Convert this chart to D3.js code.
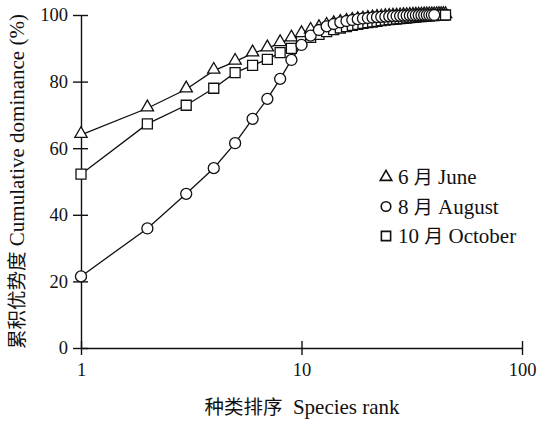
<!DOCTYPE html>
<html>
<head>
<meta charset="utf-8">
<script src="https://cdn.jsdelivr.net/npm/d3@7"></script>
<style>
  html, body { margin: 0; padding: 0; background: #fff; }
  svg { display: block; }
</style>
</head>
<body>
<div id="chart"></div>
<script>
  // cumulative dominance (%) by species rank
  const juneValues = [64, 72, 77.7, 83.3, 86, 88.5, 90, 91.6, 93, 94.3,
    95.3, 96.1, 96.8, 97.3, 97.7, 98.0, 98.3, 98.5, 98.7, 98.9,
    99.05, 99.2, 99.3, 99.4, 99.5, 99.55, 99.6, 99.65, 99.7, 99.75,
    99.8, 99.83, 99.86, 99.88, 99.9, 99.92, 99.94, 99.95, 99.96, 99.97,
    99.98, 99.99, 99.99, 100, 100];
  const augustValues = [21.5, 35.9, 46.3, 54, 61.5, 68.8, 74.8, 80.8, 86.5, 91,
    93.8, 95.5, 96.6, 97.3, 97.8, 98.2, 98.5, 98.75, 98.95, 99.1,
    99.25, 99.35, 99.45, 99.52, 99.6, 99.65, 99.7, 99.75, 99.8, 99.84,
    99.87, 99.9, 99.92, 99.94, 99.96, 99.97, 99.98, 99.99, 100, 100];
  const octoberValues = [52.2, 67.3, 72.9, 78, 82.7, 84.9, 86.7, 88.7, 90, 92,
    93.3, 94.2, 95, 95.6, 96.1, 96.5, 96.9, 97.2, 97.5, 97.7,
    97.9, 98.1, 98.3, 98.45, 98.6, 98.7, 98.8, 98.9, 99.0, 99.1,
    99.2, 99.3, 99.4, 99.5, 99.55, 99.6, 99.7, 99.75, 99.8, 99.85,
    99.9, 99.93, 99.96, 99.98, 100];

  const xTicks = [1, 10, 100];
  const yTicks = [0, 20, 40, 60, 80, 100];
  const seriesLabels = ["6 月 June", "8 月 August", "10 月 October"];
  const seriesSymbols = ["triangle", "circle", "square"];

  const SERIF = "'Liberation Serif', 'Times New Roman', serif";
  const CJK = "'Noto Sans CJK SC', sans-serif";

  const width = 537, height = 422;
  const margin = { top: 15, right: 15, bottom: 74, left: 81 };

  const svg = d3.select("#chart").append("svg")
    .attr("width", width)
    .attr("height", height);

  const x = d3.scaleLog()
    .domain([1, 100])
    .range([margin.left, width - margin.right]);
  const y = d3.scaleLinear()
    .domain([0, 100])
    .range([height - margin.bottom, margin.top]);

  const toPoints = (vals) => vals.map((v, i) => ({ rank: i + 1, value: v }));
  const series = [
    { key: "june", symbol: "triangle", points: toPoints(juneValues) },
    { key: "october", symbol: "square", points: toPoints(octoberValues) },
    { key: "august", symbol: "circle", points: toPoints(augustValues) },
  ];

  // axes
  const xAxis = d3.axisBottom(x).tickValues(xTicks).tickFormat(d3.format("d"))
    .tickSizeInner(-7).tickSizeOuter(0).tickPadding(15);
  const yAxis = d3.axisLeft(y).tickValues(yTicks)
    .tickSizeInner(8).tickSizeOuter(0).tickPadding(5);

  const gx = svg.append("g")
    .attr("transform", `translate(0,${y(0)})`)
    .call(xAxis)
    .attr("font-family", SERIF);
  gx.selectAll(".tick line").attr("y1", 7);
  gx.selectAll("text").attr("font-size", 18.5).attr("fill", "#111");

  const gy = svg.append("g")
    .attr("transform", `translate(${margin.left},0)`)
    .call(yAxis)
    .attr("font-family", SERIF);
  gy.selectAll(".tick line").attr("x2", 7).attr("x1", -8);
  gy.selectAll("text").attr("font-size", 18.5).attr("fill", "#111");

  svg.selectAll(".domain, .tick line").attr("stroke", "#111").attr("stroke-width", 1.4);

  // lines
  const line = d3.line().x((d) => x(d.rank)).y((d) => y(d.value));
  series.forEach((s) => {
    svg.append("path")
      .datum(s.points)
      .attr("fill", "none")
      .attr("stroke", "#111")
      .attr("stroke-width", 1.3)
      .attr("d", line);
  });

  const symbolPath = {
    triangle: d3.symbol().type(d3.symbolTriangle).size(66)(),
    circle: d3.symbol().type(d3.symbolCircle).size(95)(),
    square: d3.symbol().type(d3.symbolSquare).size(100)(),
  };

  series.forEach((s) => {
    svg.append("g").selectAll("path")
      .data(s.points)
      .join("path")
      .attr("transform", (d) => `translate(${x(d.rank)},${y(d.value) - (s.symbol === "triangle" ? 1 : 0)})`)
      .attr("d", symbolPath[s.symbol])
      .attr("fill", "#fff")
      .attr("stroke", "#111")
      .attr("stroke-width", 1.3);
  });

  // legend
  const legendSymbol = {
    triangle: d3.symbol().type(d3.symbolTriangle).size(58)(),
    circle: d3.symbol().type(d3.symbolCircle).size(72)(),
    square: d3.symbol().type(d3.symbolSquare).size(85)(),
  };
  const legend = svg.append("g").attr("transform", "translate(386,177)");
  seriesLabels.forEach((label, i) => {
    const row = legend.append("g").attr("transform", `translate(0,${i * 29.5})`);
    row.append("path")
      .attr("d", legendSymbol[seriesSymbols[i]])
      .attr("fill", "none")
      .attr("stroke", "#111")
      .attr("stroke-width", 1.6);
    const parts = label.split("月");
    const t = row.append("text")
      .attr("x", 12).attr("y", 7)
      .attr("font-family", SERIF).attr("font-size", 21).attr("fill", "#111");
    t.append("tspan").text(parts[0]);
    t.append("tspan").attr("font-family", CJK).attr("font-size", 19).text("月");
    t.append("tspan").text(parts[1]);
  });

  // axis titles
  const xTitle = svg.append("text")
    .attr("x", 302)
    .attr("y", 414)
    .attr("text-anchor", "middle")
    .attr("font-family", SERIF)
    .attr("font-size", 21)
    .attr("fill", "#111");
  xTitle.append("tspan").attr("font-family", CJK).attr("font-size", 19.5).text("种类排序");
  xTitle.append("tspan").text("\u00a0\u00a0Species rank");

  const yTitle = svg.append("text")
    .attr("transform", `translate(24,${(margin.top + height - margin.bottom) / 2}) rotate(-90)`)
    .attr("text-anchor", "middle")
    .attr("font-family", SERIF)
    .attr("font-size", 21)
    .attr("fill", "#111");
  yTitle.append("tspan").attr("font-family", CJK).attr("font-size", 19.5).text("累积优势度");
  yTitle.append("tspan").text(" Cumulative dominance (%)");
</script>
</body>
</html>
